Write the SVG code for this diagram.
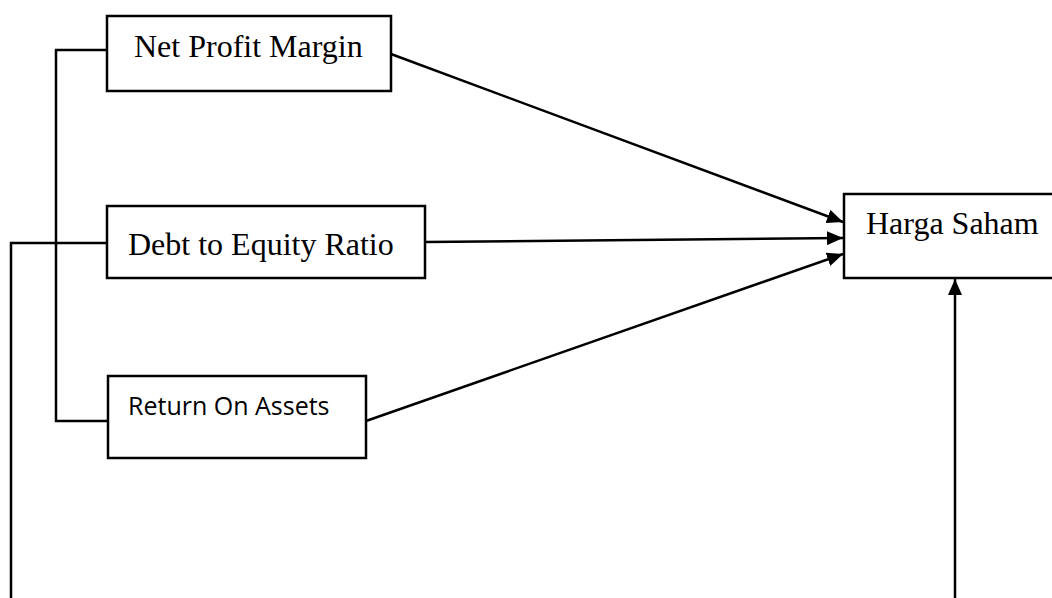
<svg xmlns="http://www.w3.org/2000/svg" width="1052" height="598" viewBox="0 0 1052 598">
<style>
.box{fill:#fff;stroke:#000;stroke-width:2.5}
.ln{fill:none;stroke:#000;stroke-width:2.5}
.ser{font-family:"Liberation Serif","Times New Roman",serif;font-size:32px;fill:#000}
.sans{font-family:"Open Sans","Liberation Sans",sans-serif;font-size:25px;fill:#000}
</style>
<defs>
<marker id="ah2" markerWidth="16" markerHeight="14" refX="16" refY="7" orient="auto" markerUnits="userSpaceOnUse" viewBox="0 0 16 14">
<path d="M0,0 L16,7 L0,14 Z" fill="#000"/>
</marker>
</defs>
<g id="connectors">
<polyline class="ln" points="107,50 56,50 56,421 108,421"/>
<polyline class="ln" points="107,243 11,243 11,598"/>
<line class="ln" x1="391" y1="54" x2="843" y2="222" marker-end="url(#ah2)"/>
<line class="ln" x1="425" y1="242" x2="843" y2="238" marker-end="url(#ah2)"/>
<line class="ln" x1="366" y1="421" x2="843" y2="254" marker-end="url(#ah2)"/>
<line class="ln" x1="955" y1="598" x2="955" y2="279" marker-end="url(#ah2)"/>
</g>
<g id="npm">
<rect class="box" x="107" y="16" width="284" height="75"/>
<text class="ser" x="134" y="57">Net Profit Margin</text>
</g>
<g id="der">
<rect class="box" x="107" y="206" width="318" height="72"/>
<text class="ser" x="128" y="255">Debt to Equity Ratio</text>
</g>
<g id="roa">
<rect class="box" x="108" y="376" width="258" height="82"/>
<text class="sans" x="128" y="415">Return On Assets</text>
</g>
<g id="harga">
<rect class="box" x="844" y="194" width="220" height="84"/>
<text class="ser" x="866" y="234">Harga Saham</text>
</g>
</svg>
